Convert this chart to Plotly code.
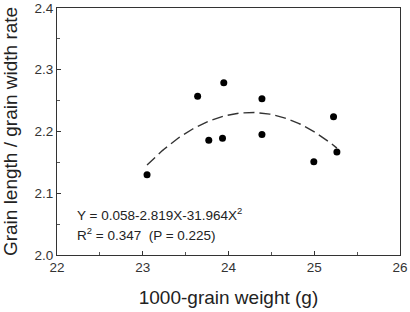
import numpy as np
import plotly.graph_objects as go

weight = [23.05, 23.64, 23.945, 23.77, 23.93, 24.39, 24.39, 25.225, 24.995, 25.264]
ratio = [2.130, 2.257, 2.279, 2.186, 2.189, 2.253, 2.195, 2.224, 2.151, 2.167]
x_ticks = [22, 23, 24, 25, 26]
y_ticks = [2.0, 2.1, 2.2, 2.3, 2.4]
eq_text = "Y = 0.058-2.819X-31.964X<sup>2</sup>"
r2_text = "R<sup>2</sup> = 0.347  (P = 0.225)"

coef = np.polyfit(weight, ratio, 2)
xf = np.linspace(min(weight), max(weight), 100)
yf = np.polyval(coef, xf)

fig = go.Figure()
fig.add_trace(go.Scatter(x=xf, y=yf, mode="lines",
                         line=dict(color="#333333", width=1.4, dash="11px,5px"),
                         hoverinfo="skip"))
fig.add_trace(go.Scatter(x=weight, y=ratio, mode="markers",
                         marker=dict(color="black", size=7)))

font = "Liberation Sans, Arial, sans-serif"
axis_common = dict(showgrid=False, zeroline=False, showline=True, mirror=True,
                   linecolor="#333333", linewidth=1.2, ticks="inside", ticklen=4,
                   tickcolor="#333333", tickfont=dict(family=font, size=13.5, color="#333333"))
fig.update_xaxes(range=[22, 26], tickvals=x_ticks, ticktext=[str(v) for v in x_ticks],
                 minor=dict(ticks="inside", ticklen=3, dtick=0.5, tickcolor="#555555"),
                 title=dict(text="1000-grain weight (g)", font=dict(family=font, size=19, color="#222222"), standoff=16),
                 **axis_common)
fig.update_yaxes(range=[2.0, 2.4], tickvals=y_ticks, ticktext=[f"{v:.1f}" for v in y_ticks],
                 minor=dict(ticks="inside", ticklen=3, dtick=0.05, tickcolor="#555555"),
                 title=dict(text="Grain length / grain width rate", font=dict(family=font, size=19, color="#222222"), standoff=13),
                 **axis_common)
fig.add_annotation(x=0.052, y=0.166, xref="paper", yref="paper", text=eq_text, showarrow=False,
                   xanchor="left", yanchor="middle", font=dict(family=font, size=13.5, color="#222222"))
fig.add_annotation(x=0.052, y=0.085, xref="paper", yref="paper", text=r2_text, showarrow=False,
                   xanchor="left", yanchor="middle", font=dict(family=font, size=13.5, color="#222222"))
fig.update_layout(width=410, height=312, margin=dict(l=57, r=10, t=8, b=57, autoexpand=False),
                  plot_bgcolor="white", paper_bgcolor="white", showlegend=False)
fig.write_html("out.html")
